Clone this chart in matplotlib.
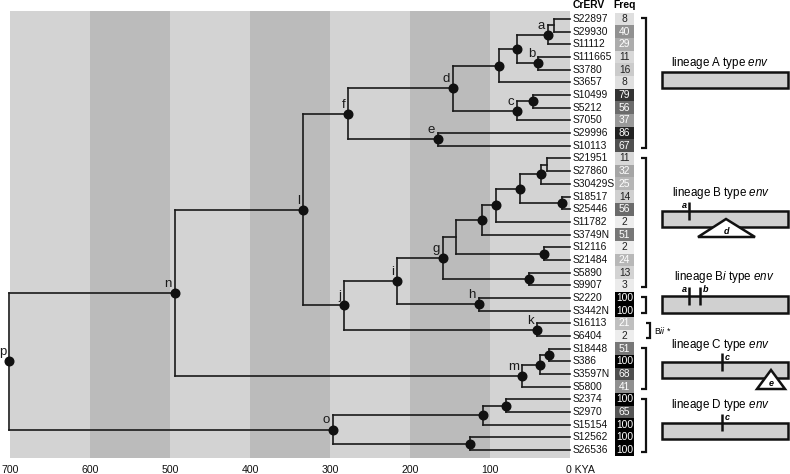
import matplotlib
matplotlib.use('Agg')
import matplotlib.pyplot as plt
from matplotlib.patches import Rectangle, Polygon
from matplotlib.transforms import blended_transform_factory

plt.rcParams['font.family'] = ['Liberation Sans', 'DejaVu Sans']
plt.rcParams['mathtext.fontset'] = 'custom'
plt.rcParams['mathtext.rm'] = 'Liberation Sans'
plt.rcParams['mathtext.it'] = 'Liberation Sans:italic'
plt.rcParams['mathtext.bf'] = 'Liberation Sans:bold'

# ---------------- data ----------------
tips = ['S22897', 'S29930', 'S11112', 'S111665', 'S3780', 'S3657', 'S10499',
        'S5212', 'S7050', 'S29996', 'S10113', 'S21951', 'S27860', 'S30429S',
        'S18517', 'S25446', 'S11782', 'S3749N', 'S12116', 'S21484', 'S5890',
        'S9907', 'S2220', 'S3442N', 'S16113', 'S6404', 'S18448', 'S386',
        'S3597N', 'S5800', 'S2374', 'S2970', 'S15154', 'S12562', 'S26536']
freqs = [8, 40, 29, 11, 16, 8, 79, 56, 37, 86, 67, 11, 32, 25, 14, 56, 2, 51,
         2, 24, 13, 3, 100, 100, 21, 2, 51, 100, 68, 41, 100, 65, 100, 100, 100]

# node id: (label, age in KYA, children, dot)
nodes = {
    'A1': ('', 20, ['S22897', 'S29930'], False),
    'a': ('a', 27.5, ['A1', 'S11112'], True),
    'b': ('b', 40, ['S111665', 'S3780'], True),
    'A2': ('', 66, ['a', 'b'], True),
    'A3': ('', 89, ['A2', 'S3657'], True),
    'A4': ('', 46, ['S10499', 'S5212'], True),
    'c': ('c', 66, ['A4', 'S7050'], True),
    'd': ('d', 146, ['A3', 'c'], True),
    'e': ('e', 165, ['S29996', 'S10113'], True),
    'f': ('f', 277, ['d', 'e'], True),
    'B1': ('', 29, ['S21951', 'S27860'], False),
    'B2': ('', 36, ['B1', 'S30429S'], True),
    'B3': ('', 10, ['S18517', 'S25446'], True),
    'B4': ('', 62, ['B2', 'B3'], True),
    'B5': ('', 92, ['B4', 'S11782'], True),
    'B6': ('', 110, ['B5', 'S3749N'], True),
    'B7': ('', 32, ['S12116', 'S21484'], True),
    'B8': ('', 142, ['B6', 'B7'], False),
    'B9': ('', 51, ['S5890', 'S9907'], True),
    'g': ('g', 159, ['B8', 'B9'], True),
    'h': ('h', 114, ['S2220', 'S3442N'], True),
    'i': ('i', 216, ['g', 'h'], True),
    'k': ('k', 41, ['S16113', 'S6404'], True),
    'j': ('j', 282, ['i', 'k'], True),
    'l': ('l', 334, ['f', 'j'], True),
    'C1': ('', 26, ['S18448', 'S386'], True),
    'C2': ('', 37, ['C1', 'S3597N'], True),
    'm': ('m', 60, ['C2', 'S5800'], True),
    'n': ('n', 494, ['l', 'm'], True),
    'D1': ('', 80, ['S2374', 'S2970'], True),
    'D2': ('', 109, ['D1', 'S15154'], True),
    'D3': ('', 125, ['S12562', 'S26536'], True),
    'o': ('o', 296, ['D2', 'D3'], True),
    'p': ('p', 701, ['n', 'o'], True),
}

groups = [(0, 10), (11, 21), (22, 23), (24, 25), (26, 29), (30, 34)]
tick_values = [700, 600, 500, 400, 300, 200, 100]

# ---------------- figure ----------------
fig = plt.figure(figsize=(7.9, 4.74), dpi=100)
ax = fig.add_axes([0, 0, 1, 1])
ax.set_xlim(712.5, -275)
ax.set_ylim(35.883, -1.498)
ax.axis('off')

# background bands
for k, v in enumerate(tick_values):
    col = '#d3d3d3' if k % 2 == 0 else '#bbbbbb'
    ax.add_patch(Rectangle((v - 100, -0.63), 100, 35.25, fc=col, ec='none', zorder=0))

# tree layout
ypos = {t: i for i, t in enumerate(tips)}
age = {t: 0.0 for t in tips}


def place(nid):
    if nid in ypos:
        return ypos[nid]
    label, a, ch, dot = nodes[nid]
    ys = [place(c) for c in ch]
    ypos[nid] = (min(ys) + max(ys)) / 2
    age[nid] = a
    return ypos[nid]


place('p')
lc = '#1a1a1a'
lw = 1.2
for nid, (label, a, ch, dot) in nodes.items():
    ys = [ypos[c] for c in ch]
    ax.plot([a, a], [min(ys), max(ys)], color=lc, lw=lw, solid_capstyle='projecting', zorder=2)
    for c in ch:
        ax.plot([a, age[c]], [ypos[c], ypos[c]], color=lc, lw=lw,
                solid_capstyle='projecting', zorder=2)
    if dot:
        ax.plot(a, ypos[nid], 'o', ms=6.2, color='#111111', zorder=5)
    if label:
        ax.annotate(label, (a, ypos[nid]), xytext=(-2.2, 6.5), textcoords='offset points',
                    ha='right', va='center', fontsize=9.5, color='#1a1a1a', zorder=6)

# tip labels and frequency cells
rows = list(range(len(tips)))
for r, name in zip(rows, tips):
    ax.text(-3.75, r, name, ha='left', va='center', fontsize=7.4, color='#111111')

cell_cols = [str(max(0.0, min(1.0, 0.95 * (1 - v / 100)))) for v in freqs]
ax.barh(rows, 23.75, left=-80, height=1.0, color=cell_cols, edgecolor='none', zorder=1)
for r, v in zip(rows, freqs):
    ax.text(-68.1, r, str(v), ha='center', va='center', fontsize=7.4,
            color='white' if v >= 20 else '#222222')

# brackets
for gi, (r0, r1) in enumerate(groups):
    xv, xt = (-95.6, -88.75) if gi != 3 else (-100, -95)
    ax.plot([xt, xv, xv, xt], [r0 - 0.05, r0 - 0.05, r1 + 0.15, r1 + 0.15],
            color='#111111', lw=1.6, solid_joinstyle='miter', solid_capstyle='butt')

# axis labels
tb = blended_transform_factory(ax.transData, ax.transAxes)
for v in tick_values:
    ax.text(v, 1 - 470 / 474, str(v), transform=tb, ha='center', va='center', fontsize=7.6,
            color='#111111')
ax.annotate('0 KYA', (0, 1 - 470 / 474), xycoords=tb, xytext=(-3, 0), textcoords='offset points',
            ha='left', va='center', fontsize=7.6, color='#111111')

# ---------------- overlay (pixel coords) ----------------
ax2 = fig.add_axes([0, 0, 1, 1])
ax2.set_xlim(0, 790)
ax2.set_ylim(474, 0)
ax2.axis('off')
ax2.patch.set_alpha(0)

ax2.text(573, 5, 'CrERV', ha='left', va='center', fontsize=7.4, fontweight='bold')
ax2.text(625, 5, 'Freq', ha='center', va='center', fontsize=7.4, fontweight='bold')
ax2.text(654, 331, r'B$\mathit{ii}$ *', ha='left', va='center', fontsize=6.3)


def bar(y0, h=16):
    ax2.add_patch(Rectangle((662, y0), 126, h, fc='#d0d0d0', ec='#111111', lw=1.8, zorder=2))


def tick(x, y0, y1, lab, lx, ly):
    ax2.plot([x, x], [y0, y1], color='#111111', lw=1.8, solid_capstyle='butt', zorder=3)
    ax2.text(lx, ly, lab, ha='center', va='center', fontsize=6.5, fontweight='bold',
             style='italic', zorder=4)


def tri(x0, x1, xa, yb, ya, lab, ly):
    ax2.add_patch(Polygon([(x0, yb), (x1, yb), (xa, ya)], closed=True, fc='white',
                          ec='#111111', lw=1.8, zorder=4))
    ax2.text(xa, ly, lab, ha='center', va='center', fontsize=6.5, fontweight='bold',
             style='italic', zorder=5)


lfs = 8.4
ax2.text(720, 63, r'lineage A type $\mathit{env}$', ha='center', va='center', fontsize=lfs)
bar(72)

ax2.text(721, 193, r'lineage B type $\mathit{env}$', ha='center', va='center', fontsize=lfs)
bar(211)
tick(689, 202, 220, 'a', 684, 206)
tri(698, 755, 726, 237, 219, 'd', 231)

ax2.text(724, 277, r'lineage B$\mathit{i}$ type $\mathit{env}$', ha='center', va='center',
         fontsize=lfs)
bar(296, 17)
tick(689, 287, 305, 'a', 684, 290)
tick(700, 287, 305, 'b', 706, 290)

ax2.text(720, 345, r'lineage C type $\mathit{env}$', ha='center', va='center', fontsize=lfs)
bar(362)
tick(722, 353, 371, 'c', 727, 358)
tri(757, 785, 771, 389, 370, 'e', 383)

ax2.text(720, 405, r'lineage D type $\mathit{env}$', ha='center', va='center', fontsize=lfs)
bar(423)
tick(722, 414, 431, 'c', 727, 418)

fig.savefig('out.png', dpi=100)
